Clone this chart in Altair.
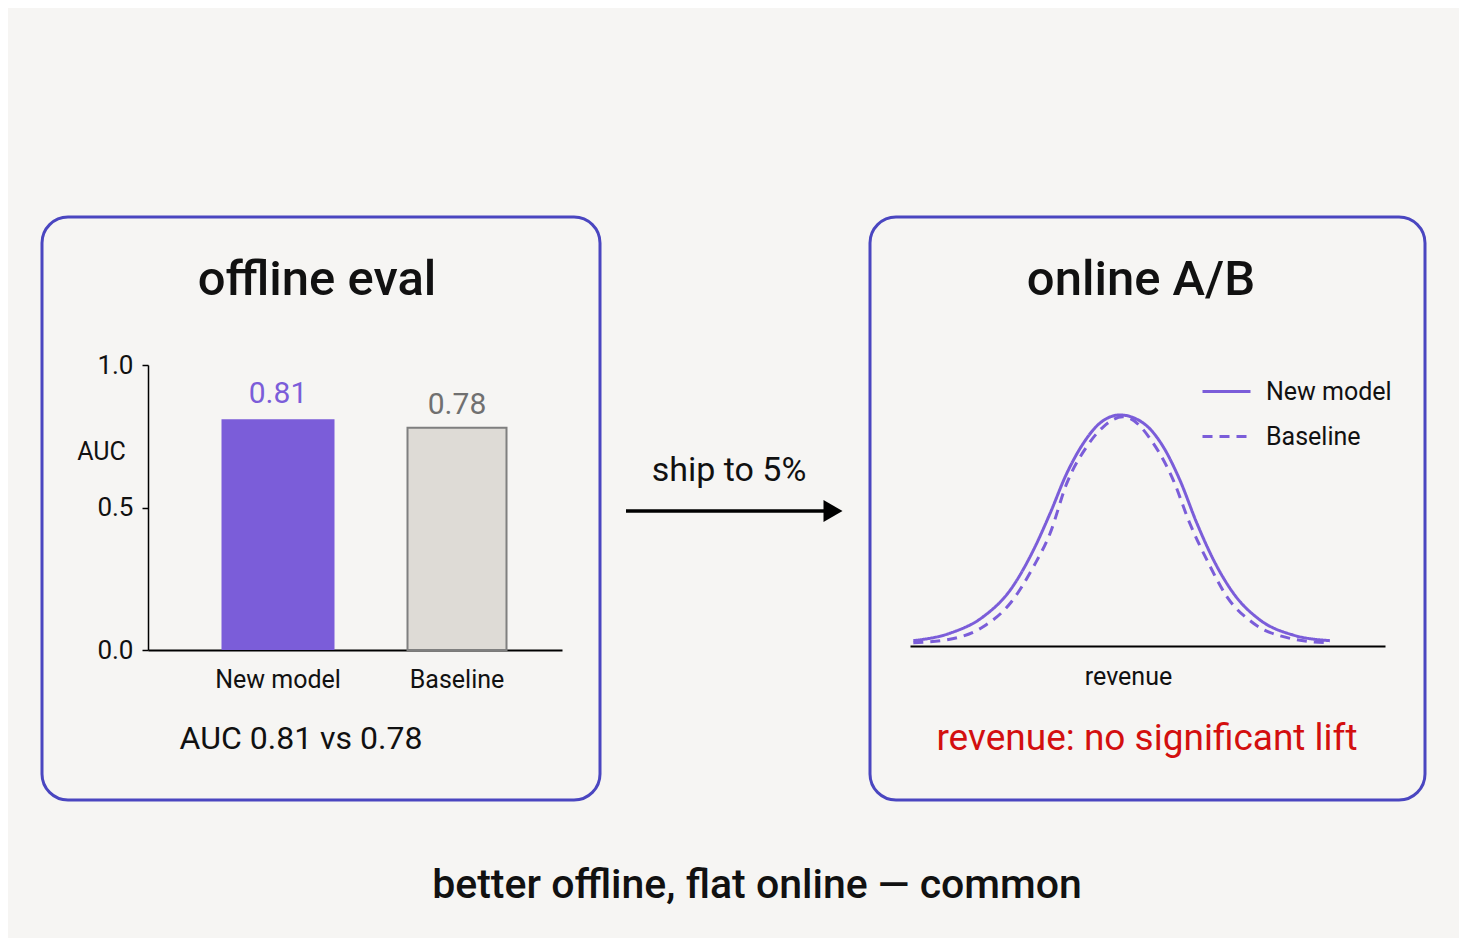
import altair as alt
import pandas as pd

# ---------------- data ----------------
models = ["New model", "Baseline"]
auc = [0.81, 0.78]

# revenue distributions (arbitrary units)
new_revenue = [0.7, 8.4, 15.4, 21.1, 26.0, 29.5, 33.0, 36.5, 40.0, 44.2, 49.1, 53.3, 56.8, 60.4, 63.9, 68.1, 73.7, 80.7, 88.4]
new_density = [0.023, 0.055, 0.126, 0.241, 0.414, 0.572, 0.744, 0.874, 0.961, 0.996, 0.961, 0.859, 0.716, 0.529, 0.371, 0.227, 0.112, 0.047, 0.023]
base_revenue = [0.7, 8.4, 15.4, 21.1, 26.0, 29.5, 33.0, 37.2, 40.7, 44.8, 46.3, 51.2, 55.4, 58.9, 62.5, 66.7, 72.3, 80.0, 87.7]
base_density = [0.014, 0.029, 0.083, 0.184, 0.342, 0.486, 0.701, 0.859, 0.945, 0.988, 0.981, 0.874, 0.716, 0.529, 0.371, 0.213, 0.098, 0.033, 0.014]

left_title = "offline eval"
right_title = "online A/B"
left_note = f"AUC {auc[0]} vs {auc[1]}"
right_note = "revenue: no significant lift"
arrow_label = "ship to 5%"
footer = "better offline, flat online \u2014 common"

# ---------------- styles ----------------
FONT = "Roboto"
PURPLE = "#7b5dd9"
BOX = "#4a46c0"
GRAY_FILL = "#dedbd6"
GRAY_STROKE = "#7f7f7f"
GRAY_TEXT = "#707070"
RED = "#d30f0f"
BG = "#f6f5f3"
INK = "#111111"

one = pd.DataFrame({"k": [0]})


def label(s, x, y, size, color=INK, weight=400):
    return alt.Chart(one).mark_text(
        text=s, font=FONT, fontSize=size, fontWeight=weight, color=color,
        align="center", baseline="middle"
    ).encode(x=alt.value(x), y=alt.value(y))


def box(x0, x1, y0, y1):
    return alt.Chart(one).mark_rect(
        cornerRadius=26, fillOpacity=0, stroke=BOX, strokeWidth=3
    ).encode(x=alt.value(x0), x2=alt.value(x1), y=alt.value(y0), y2=alt.value(y1))


boxes = [box(34, 592, 209, 792), box(862, 1417, 209, 792)]
texts = [
    label(left_title, 309, 272, 49, weight=500),
    label(right_title, 1133, 272, 49, weight=500),
    label(left_note, 293, 731, 32),
    label(right_note, 1139, 731, 37, color=RED),
    label(arrow_label, 721, 463, 34),
    label(footer, 749, 878, 41, weight=500),
]

arrow_line = alt.Chart(one).mark_rule(color="black", strokeWidth=3.5).encode(
    x=alt.value(618), x2=alt.value(822), y=alt.value(503)
)
arrow_head = alt.Chart(one).mark_point(
    shape="triangle-right", filled=True, size=484, color="black", opacity=1
).encode(x=alt.value(825), y=alt.value(503))

# ---------------- bar chart ----------------
bar_df = pd.DataFrame({"model": models, "auc": auc})

xbar = alt.X(
    "model:N", sort=models,
    scale=alt.Scale(domain=models, range=[140, 554], paddingInner=0.4,
                    paddingOuter=0.3564, align=0.598),
    axis=alt.Axis(orient="bottom", offset=-288, title="", ticks=False, tickSize=0,
                  labelAngle=0, labelFont=FONT, labelFontSize=25, labelColor=INK,
                  labelPadding=37, labelBaseline="alphabetic",
                  domainColor="black", domainWidth=2, grid=False),
)
ybar = alt.Y(
    "auc:Q",
    scale=alt.Scale(domain=[0, 1], range=[642, 357], nice=False),
    axis=alt.Axis(orient="left", offset=-140, values=[0, 0.5, 1], format=".1f",
                  labelFont=FONT, labelFontSize=26, labelColor=INK, labelPadding=9,
                  tickSize=6, tickWidth=1.5, tickColor="black",
                  domainColor="black", domainWidth=1.5, grid=False,
                  title="AUC", titleAngle=0, titleX=-47, titleY=443,
                  titleAlign="center", titleBaseline="middle",
                  titleFont=FONT, titleFontSize=25, titleFontWeight="normal",
                  titleColor=INK),
)

base = alt.Chart(bar_df).encode(x=xbar, y=ybar)
bar_new = base.mark_bar(width=113, color=PURPLE).transform_filter(
    alt.datum.model == models[0])
bar_base = base.mark_bar(width=99, fill=GRAY_FILL, stroke=GRAY_STROKE,
                         strokeWidth=2).transform_filter(alt.datum.model == models[1])
val_new = base.mark_text(font=FONT, fontSize=30, color=PURPLE, dy=-16,
                         baseline="alphabetic").encode(
    text=alt.Text("auc:Q", format=".2f")).transform_filter(alt.datum.model == models[0])
val_base = base.mark_text(font=FONT, fontSize=30, color=GRAY_TEXT, dy=-14,
                          baseline="alphabetic").encode(
    text=alt.Text("auc:Q", format=".2f")).transform_filter(alt.datum.model == models[1])

bars = alt.layer(bar_new, bar_base, val_new, val_base)

# ---------------- distribution chart ----------------
curve_df = pd.concat([
    pd.DataFrame({"series": models[0], "revenue": new_revenue, "density": new_density}),
    pd.DataFrame({"series": models[1], "revenue": base_revenue, "density": base_density}),
], ignore_index=True)

leg = alt.Legend(orient="none", legendX=1193, legendY=358, symbolType="stroke",
                 symbolSize=2304, symbolStrokeWidth=3, labelFont=FONT,
                 labelFontSize=25, labelColor=INK, labelOffset=14, rowPadding=6)

curves = alt.Chart(curve_df).mark_line(strokeWidth=3, interpolate="monotone").encode(
    x=alt.X("revenue:Q",
            scale=alt.Scale(domain=[0, 100], range=[902, 1377], nice=False, zero=False),
            axis=alt.Axis(orient="bottom", offset=-292, labels=False, ticks=False,
                          grid=False, domainColor="black", domainWidth=2,
                          title="revenue", titleFont=FONT, titleFontSize=25,
                          titleFontWeight="normal", titleColor=INK,
                          titleBaseline="alphabetic", titleAlign="center",
                          titleX=1120, titleY=38)),
    y=alt.Y("density:Q", scale=alt.Scale(domain=[0, 1], range=[638, 406], nice=False),
            axis=None),
    color=alt.Color("series:N", title=None,
                    scale=alt.Scale(domain=models, range=[PURPLE, PURPLE]), legend=leg),
    strokeDash=alt.StrokeDash("series:N", title=None,
                              scale=alt.Scale(domain=models, range=[[1, 0], [10, 7]]),
                              legend=leg),
    order=alt.Order("revenue:Q"),
)

chart = alt.layer(
    *boxes, *texts, arrow_line, arrow_head, bars, curves
).resolve_scale(
    x="independent", y="independent"
).properties(
    width=1451, height=930, background=BG, padding=0,
    autosize=alt.AutoSizeParams(type="none"),
).configure(font=FONT).configure_view(strokeWidth=0)

chart.save("out.html", embed_options={"renderer": "svg", "actions": False})
